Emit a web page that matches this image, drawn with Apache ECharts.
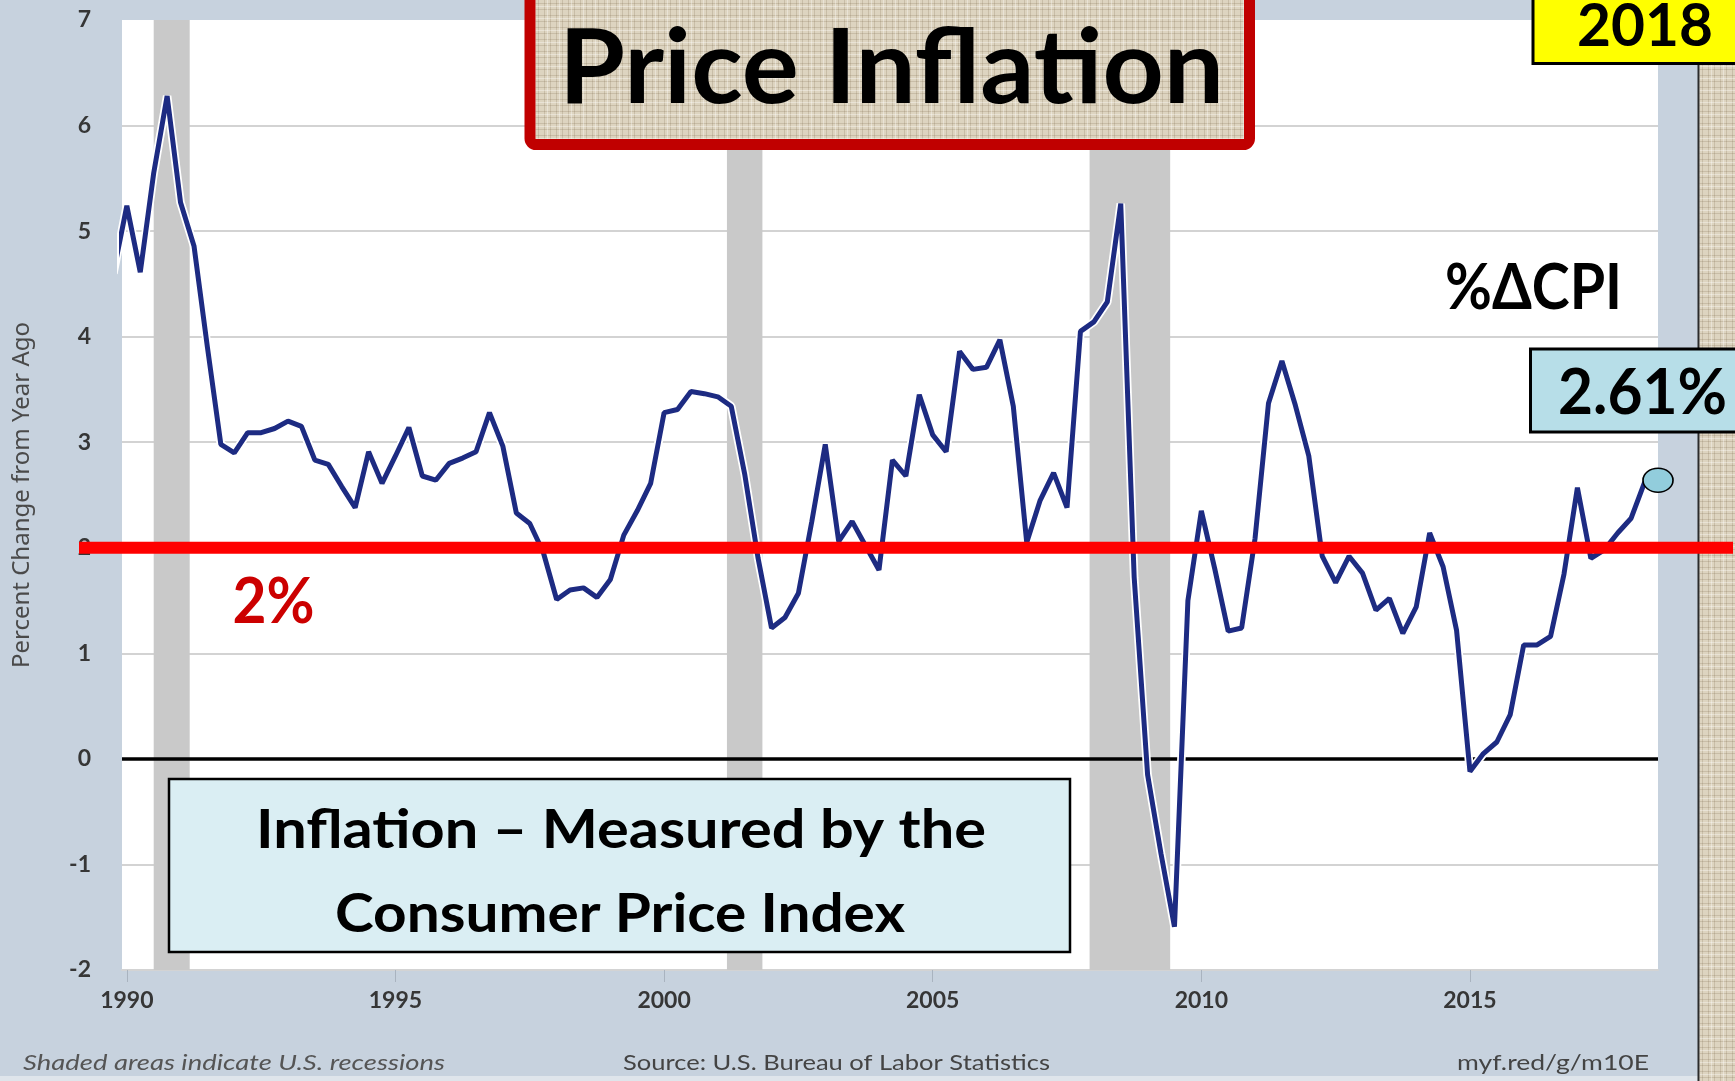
<!DOCTYPE html>
<html>
<head>
<meta charset="utf-8">
<title>Price Inflation</title>
<script src="https://cdn.jsdelivr.net/npm/echarts@6/dist/echarts.min.js"></script>
<style>
  html, body { margin: 0; padding: 0; background: #c7d2de; }
  #chart { width: 1735px; height: 1081px; }
</style>
</head>
<body>
<div id="chart"></div>
<script>
  // quarterly CPI, percent change from a year ago (first point is 1989 Q4, clipped by the axis)
  var firstQuarter = 1989.75;
  var cpi1989 = [4.60];
  var cpi1990s = [
    5.24, 4.61, 5.55, 6.28,
    5.27, 4.86, 3.90, 2.98,
    2.90, 3.09, 3.09, 3.13,
    3.20, 3.15, 2.83, 2.79,
    2.58, 2.38, 2.91, 2.61,
    2.87, 3.14, 2.68, 2.64,
    2.80, 2.85, 2.91, 3.28,
    2.96, 2.33, 2.23, 1.96,
    1.51, 1.60, 1.62, 1.53,
    1.70, 2.12, 2.35, 2.61
  ];
  var cpi2000s = [
    3.28, 3.31, 3.48, 3.46,
    3.43, 3.34, 2.70, 1.90,
    1.24, 1.34, 1.57, 2.25,
    2.98, 2.06, 2.25, 2.02,
    1.79, 2.83, 2.68, 3.45,
    3.07, 2.91, 3.86, 3.69,
    3.71, 3.97, 3.34, 2.05,
    2.45, 2.71, 2.38, 4.05,
    4.14, 4.33, 5.26, 1.72,
    -0.15, -0.90, -1.59, 1.50
  ];
  var cpi2010s = [
    2.35, 1.80, 1.21, 1.24,
    2.09, 3.37, 3.77, 3.35,
    2.87, 1.92, 1.67, 1.92,
    1.76, 1.41, 1.52, 1.19,
    1.44, 2.14, 1.82, 1.22,
    -0.12, 0.05, 0.16, 0.42,
    1.08, 1.08, 1.16, 1.75,
    2.57, 1.90, 1.98, 2.14,
    2.28, 2.62, 2.64
  ];
  var recessionStart = [1990.5, 2001.17, 2007.92];
  var recessionEnd = [1991.17, 2001.83, 2009.42];
  var yearTicks = [1990, 1995, 2000, 2005, 2010, 2015];
  var targetRate = 2;

  var cpiValues = cpi1989.concat(cpi1990s, cpi2000s, cpi2010s);
  var lineData = cpiValues.map(function (v, i) {
    return [firstQuarter + i * 0.25, v];
  });
  var mainData = lineData.slice(0, -1);
  mainData.push({
    value: lineData[lineData.length - 1],
    symbol: 'circle',
    symbolSize: [30, 24],
    itemStyle: {color: '#92cddc', borderColor: '#000', borderWidth: 1.5}
  });

  var chart = echarts.init(document.getElementById('chart'));
  var labelStyle = {fontFamily: 'Lato', fontWeight: 'bold', fontSize: 23, color: '#363636'};

  var option = {
    backgroundColor: '#c7d2de',
    animation: false,
    grid: {left: 122, right: 77, top: 20, bottom: 111, show: true, backgroundColor: '#ffffff', borderWidth: 0},
    xAxis: {
      type: 'value',
      min: 1989.91,
      max: 2018.5,
      splitLine: {show: false},
      axisLine: {show: true, onZero: false, lineStyle: {color: '#d3d3d3', width: 2}},
      axisTick: {show: true, length: 12, customValues: yearTicks, lineStyle: {color: '#a9b3bf', width: 1}},
      axisLabel: Object.assign({
        customValues: yearTicks,
        margin: 19,
        formatter: function (v) { return String(Math.round(v)); }
      }, labelStyle)
    },
    yAxis: {
      type: 'value',
      min: -2,
      max: 7,
      interval: 1,
      name: 'Percent Change from Year Ago',
      nameLocation: 'middle',
      nameGap: 88,
      nameTextStyle: {fontFamily: 'Noto Sans', fontSize: 24, color: '#4a4a4a'},
      axisLine: {show: false},
      axisTick: {show: false},
      axisLabel: Object.assign({margin: 31}, labelStyle),
      splitLine: {showMaxLine: false, lineStyle: {color: '#d3d3d3', width: 2}}
    },
    series: [
      {
        // white halo under the line, also carries recessions and zero line
        type: 'line',
        data: lineData,
        symbol: 'none',
        silent: true,
        z: 9,
        lineStyle: {color: '#ffffff', width: 8.5},
        markArea: {
          silent: true,
          itemStyle: {color: '#c9c9c9'},
          data: recessionStart.map(function (s, i) {
            return [{xAxis: s}, {xAxis: recessionEnd[i]}];
          })
        },
        markLine: {
          silent: true,
          symbol: 'none',
          label: {show: false},
          lineStyle: {color: '#000', width: 3.5, type: 'solid'},
          data: [{yAxis: 0}]
        }
      },
      {
        type: 'line',
        data: mainData,
        symbol: 'none',
        showSymbol: true,
        z: 10,
        lineStyle: {color: '#1d2b82', width: 5}
      }
    ]
  };
  chart.setOption(option);

  var measure = document.createElement('canvas').getContext('2d');
  function fitText(str, font, x, cy, width, color, align) {
    measure.font = font;
    measure.textBaseline = 'middle';
    var w = measure.measureText(str).width;
    var cap = measure.measureText('H');
    var shift = (cap.actualBoundingBoxDescent - cap.actualBoundingBoxAscent) / 2;
    align = align || 'center';
    return {
      type: 'text', z: 99, x: x, y: cy - shift, scaleX: width / w,
      style: {
        text: str, font: font, fill: color || '#000',
        align: align, verticalAlign: 'middle',
        textAlign: align, textVerticalAlign: 'middle'
      }
    };
  }

  function makeBurlap() {
    var c = document.createElement('canvas');
    c.width = 12; c.height = 12;
    var g = c.getContext('2d');
    g.fillStyle = '#ddd4c0'; g.fillRect(0, 0, 12, 12);
    g.fillStyle = 'rgba(120,100,70,0.20)';
    g.fillRect(0, 3, 12, 1); g.fillRect(0, 9, 12, 1);
    g.fillRect(4, 0, 1, 12); g.fillRect(10, 0, 1, 12);
    g.fillStyle = 'rgba(255,255,255,0.35)';
    g.fillRect(0, 6, 12, 1); g.fillRect(7, 0, 1, 12);
    return c;
  }

  function buildGraphics() {
    var y2 = chart.convertToPixel({yAxisIndex: 0}, targetRate);
    var burlap = {image: makeBurlap(), repeat: 'repeat'};
    var bold = function (size) { return 'bold ' + size + 'px Lato, "Open Sans", sans-serif'; };
    return [
      {type: 'rect', z: 90, shape: {x: 1698, y: 0, width: 37, height: 1081}, style: {fill: burlap}},
      {type: 'line', z: 91, shape: {x1: 1698.5, y1: 0, x2: 1698.5, y2: 1081}, style: {stroke: '#2b2b2b', lineWidth: 2}},
      {type: 'rect', z: 90, shape: {x: 0, y: 1076, width: 1698, height: 5}, style: {fill: '#dfe5eb'}},
      // 2% target
      {type: 'line', z: 95, shape: {x1: 79, y1: y2, x2: 1733, y2: y2}, style: {stroke: '#ff0000', lineWidth: 12}},
      {type: 'rect', z: 96, shape: {x: 530, y: -20, width: 719.5, height: 164.5, r: 6},
        style: {fill: burlap, stroke: '#c00000', lineWidth: 11}},
      {type: 'rect', z: 96, shape: {x: 1533, y: -10, width: 230, height: 73.5},
        style: {fill: '#ffff00', stroke: '#000', lineWidth: 3}},
      {type: 'rect', z: 96, shape: {x: 1530.5, y: 349, width: 230, height: 83},
        style: {fill: '#b7dee8', stroke: '#000', lineWidth: 3}},
      {type: 'rect', z: 96, shape: {x: 169, y: 779, width: 901, height: 173},
        style: {fill: '#daeef3', stroke: '#000', lineWidth: 2.5}},
      fitText('Price Inflation', bold(103), 891.5, 65, 665),
      fitText('2018', bold(59), 1645, 24, 136),
      fitText('%\u0394CPI', bold(63), 1533.5, 285.5, 177),
      fitText('2.61%', bold(63), 1642.5, 390.5, 169),
      fitText('2%', bold(64), 273.5, 600, 82, '#cc0000'),
      fitText('Inflation \u2013 Measured by the', bold(54), 621, 828.5, 730),
      fitText('Consumer Price Index', bold(54), 620, 912.5, 570),
      fitText('Shaded areas indicate U.S. recessions', 'italic 21px Lato, sans-serif', 23, 1062, 422, '#555', 'left'),
      fitText('Source: U.S. Bureau of Labor Statistics', '21px Lato, sans-serif', 836.5, 1062, 427, '#444'),
      fitText('myf.red/g/m10E', '21px Lato, sans-serif', 1553, 1062, 192, '#444')
    ];
  }

  chart.setOption({graphic: buildGraphics()});
</script>
</body>
</html>
